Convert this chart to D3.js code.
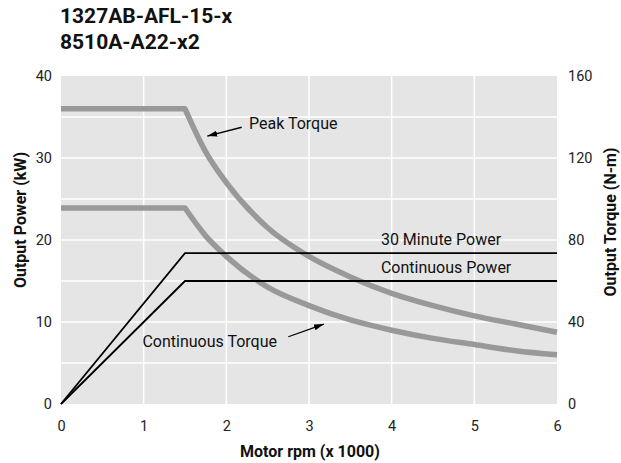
<!DOCTYPE html>
<html>
<head>
<meta charset="utf-8">
<script src="https://cdn.jsdelivr.net/npm/d3@7"></script>
<style>
  body { margin: 0; background: #fff; }
  svg { font-family: Roboto, "Liberation Sans", sans-serif; }
</style>
</head>
<body>
<svg id="chart"></svg>
<script>

// chart values
var titleLines = ["1327AB-AFL-15-x", "8510A-A22-x2"];
var rpmTicks = [0, 1, 2, 3, 4, 5, 6];
var powerTicks = [0, 10, 20, 30, 40];
var torqueTicks = [0, 40, 80, 120, 160];
var powerGrid = [5, 10, 15, 20, 25, 30, 35];

var torqueRpm = [0, 1.5, 1.75, 2, 2.5, 3, 3.5, 4, 4.5, 5, 5.5, 6];
var peakTorque = [144, 144, 123, 108, 86, 72, 62, 54, 48, 43, 39, 35];
var contTorque = [95.6, 95.6, 82, 72, 57, 48, 41, 36, 32, 29, 26, 24];

var powerRpm = [0, 1.5, 6];
var power30Min = [0, 18.4, 18.4];
var powerCont = [0, 15, 15];

var svgWidth = 621;
var svgHeight = 463;
var margin = {top: 76, left: 61, right: 64, bottom: 59};
var w = svgWidth - margin.left - margin.right;
var h = svgHeight - margin.top - margin.bottom;

var svg = d3.select('#chart')
    .attr("width", svgWidth)
    .attr("height", svgHeight);

var defs = svg.append("defs");
defs.append("marker")
    .attr("id", "arrow")
    .attr("viewBox", "0 0 10 6")
    .attr("refX", 10)
    .attr("refY", 3)
    .attr("markerWidth", 10)
    .attr("markerHeight", 6)
    .attr("markerUnits", "userSpaceOnUse")
    .attr("orient", "auto")
    .append("path")
    .attr("d", "M0,0 L10,3 L0,6 Z")
    .attr("fill", "#000");

var x = d3.scaleLinear().domain([0, 6]).range([0, w]);
var yP = d3.scaleLinear().domain([0, 40]).range([h, 0]);
var yT = d3.scaleLinear().domain([0, 160]).range([h, 0]);

// title
svg.selectAll(".title")
    .data(titleLines)
    .enter()
    .append("text")
    .attr("x", 60)
    .attr("y", function(d, i) { return 23 + i * 26; })
    .attr("font-size", 21)
    .attr("font-weight", "bold")
    .attr("fill", "#111")
    .text(function(d) { return d; });

var g = svg.append("g")
    .attr("transform", "translate(" + margin.left + "," + margin.top + ")");

g.append("rect")
    .attr("width", w)
    .attr("height", h)
    .attr("fill", "#e5e5e5");

// grid
g.selectAll(".vgrid")
    .data(rpmTicks.slice(1, -1))
    .enter()
    .append("line")
    .attr("x1", d => x(d)).attr("x2", d => x(d))
    .attr("y1", 0).attr("y2", h)
    .attr("stroke", "#fff")
    .attr("stroke-width", 1.5);

g.selectAll(".hgrid")
    .data(powerGrid)
    .enter()
    .append("line")
    .attr("x1", 0).attr("x2", w)
    .attr("y1", d => yP(d)).attr("y2", d => yP(d))
    .attr("stroke", "#fff")
    .attr("stroke-width", 1.5);

// axes (text only, no domain lines)
var xAxis = g.append("g")
    .attr("transform", "translate(0," + h + ")")
    .call(d3.axisBottom(x).tickValues(rpmTicks).tickSize(0).tickPadding(17).tickFormat(d3.format("d")));
var yAxisL = g.append("g")
    .call(d3.axisLeft(yP).tickValues(powerTicks).tickSize(0).tickPadding(9));
var yAxisR = g.append("g")
    .attr("transform", "translate(" + w + ",0)")
    .call(d3.axisRight(yT).tickValues(torqueTicks).tickSize(0).tickPadding(11));

[xAxis, yAxisL, yAxisR].forEach(function(a) {
    a.select(".domain").remove();
    a.selectAll("text")
        .attr("font-family", "Roboto, sans-serif")
        .attr("font-size", 14.5)
        .attr("fill", "#222");
});

// torque curves: flat part then the falling part
function torquePath(vals) {
    var pts = torqueRpm.map((r, i) => [x(r), yT(vals[i])]);
    var knee = 1;
    var fall = d3.line().curve(d3.curveMonotoneX)(pts.slice(knee));
    return "M" + pts[0][0] + "," + pts[0][1] + "L" + fall.slice(1);
}

g.selectAll(".torque")
    .data([peakTorque, contTorque])
    .enter()
    .append("path")
    .attr("d", torquePath)
    .attr("fill", "none")
    .attr("stroke", "#999")
    .attr("stroke-width", 5.5)
    .attr("stroke-linejoin", "round");

var powerLine = d3.line()
    .x((d, i) => x(powerRpm[i]))
    .y(d => yP(d));

g.selectAll(".power")
    .data([power30Min, powerCont])
    .enter()
    .append("path")
    .attr("d", powerLine)
    .attr("fill", "none")
    .attr("stroke", "#000")
    .attr("stroke-width", 1.8);

// labels
var labels = [
    {t: "Peak Torque", x: x(2.274), y: yT(134)},
    {t: "Continuous Torque", x: x(0.985), y: yT(28)},
    {t: "30 Minute Power", x: x(3.87), y: yP(19.4)},
    {t: "Continuous Power", x: x(3.87), y: yP(15.94)}
];
g.selectAll(".lbl")
    .data(labels)
    .enter()
    .append("text")
    .attr("x", d => d.x)
    .attr("y", d => d.y)
    .attr("font-size", 16)
    .attr("fill", "#111")
    .text(d => d.t);

var arrows = [
    {x1: 2.186, t1: 135, x2: 1.77, t2: 130.7},
    {x1: 2.75, t1: 32.8, x2: 3.18, t2: 39}
];
g.selectAll(".arr")
    .data(arrows)
    .enter()
    .append("line")
    .attr("x1", d => x(d.x1)).attr("y1", d => yT(d.t1))
    .attr("x2", d => x(d.x2)).attr("y2", d => yT(d.t2))
    .attr("stroke", "#000")
    .attr("stroke-width", 1.3)
    .attr("marker-end", "url(#arrow)");

// axis titles
svg.append("text")
    .attr("x", 310)
    .attr("y", 457)
    .attr("text-anchor", "middle")
    .attr("font-size", 16)
    .attr("font-weight", "bold")
    .attr("fill", "#111")
    .text("Motor rpm (x 1000)");

svg.append("text")
    .attr("transform", "translate(26,220) rotate(-90)")
    .attr("text-anchor", "middle")
    .attr("font-size", 16)
    .attr("font-weight", "bold")
    .attr("fill", "#111")
    .text("Output Power (kW)");

svg.append("text")
    .attr("transform", "translate(616,222) rotate(-90)")
    .attr("text-anchor", "middle")
    .attr("font-size", 16)
    .attr("font-weight", "bold")
    .attr("fill", "#111")
    .text("Output Torque (N-m)");

</script>
</body>
</html>
